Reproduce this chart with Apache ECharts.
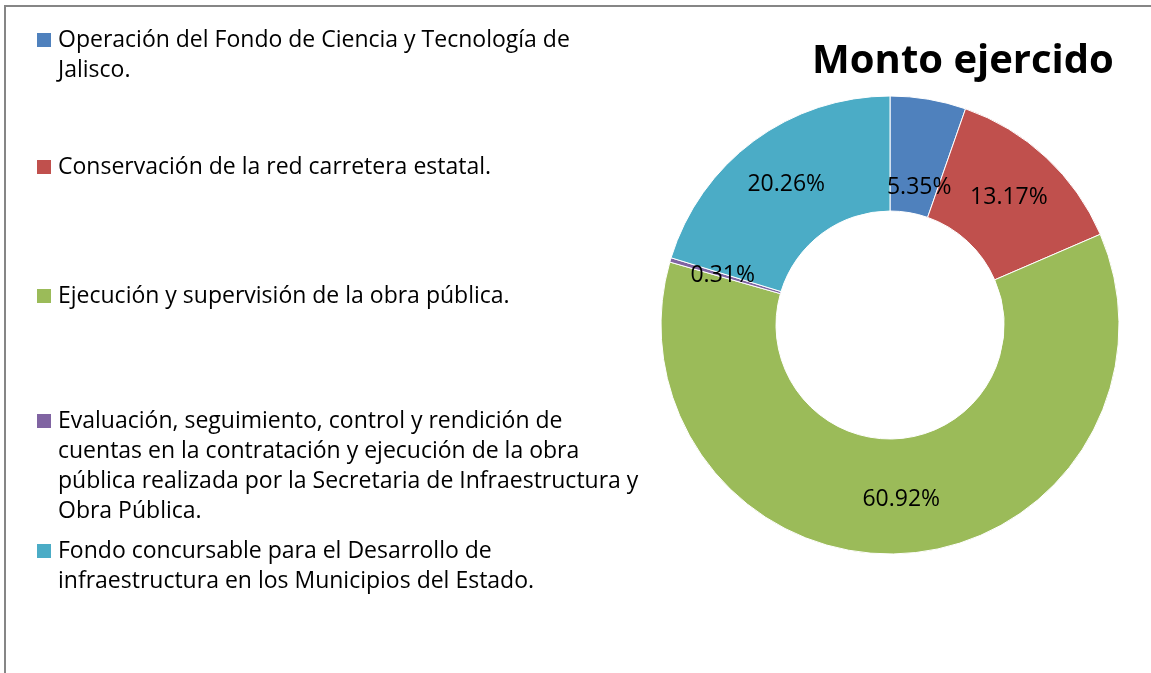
<html>
<head>
    <meta charset='utf-8'/>
    <title>Monto ejercido</title>
    <style>
        body { margin: 0; padding: 0; background: #fff; }
        #chart { position: absolute; top: 0; left: 0; width: 1151px; height: 673px; }
    </style>
</head>
<body>
<div id='chart'></div>
<script src="https://cdn.jsdelivr.net/npm/echarts@6/dist/echarts.min.js"></script>
<script type="text/javascript">
    // programas y porcentaje del monto ejercido
    var names = [
        'Operación del Fondo de Ciencia y Tecnología de Jalisco.',
        'Conservación de la red carretera estatal.',
        'Ejecución y supervisión de la obra pública.',
        'Evaluación, seguimiento, control y rendición de cuentas en la contratación y ejecución de la obra pública realizada por la Secretaria de Infraestructura y Obra Pública.',
        'Fondo concursable para el Desarrollo de infraestructura en los Municipios del Estado.'
    ];
    // texto de la leyenda tal como se corta en renglones
    var legendLines = [
        ['Operación del Fondo de Ciencia y Tecnología de', 'Jalisco.'],
        ['Conservación de la red carretera estatal.'],
        ['Ejecución y supervisión de la obra pública.'],
        ['Evaluación, seguimiento, control y rendición de', 'cuentas en la contratación y ejecución de la obra', 'pública realizada por la Secretaria de Infraestructura y', 'Obra Pública.'],
        ['Fondo concursable para el Desarrollo de', 'infraestructura en los Municipios del Estado.']
    ];
    var values = [5.35, 13.17, 60.92, 0.31, 20.26];
    var colors = ['#4F81BD', '#C0504D', '#9BBB59', '#8064A2', '#4BACC6'];

    var font = '"Open Sans", sans-serif';
    var legendTop = [40, 167, 296, 421, 551]; // centro del primer renglon
    var lineH = 30;

    var graphics = [{
        type: 'rect',
        shape: { x: 5, y: 6, width: 1170, height: 700 },
        style: { fill: 'none', stroke: '#868686', lineWidth: 2 },
        silent: true
    }];
    legendLines.forEach(function (lines, i) {
        graphics.push({
            type: 'rect',
            shape: { x: 37, y: legendTop[i] - 7, width: 14, height: 14 },
            style: { fill: colors[i] }
        });
        graphics.push({
            type: 'text',
            x: 58,
            y: legendTop[i] - lineH / 2,
            style: {
                text: lines.join('\n'),
                font: '23px ' + font,
                lineHeight: lineH,
                fill: '#000',
                verticalAlign: 'top'
            }
        });
    });

    var chart = echarts.init(document.getElementById('chart'), null, { renderer: 'canvas' });
    chart.setOption({
        backgroundColor: '#fff',
        animation: false,
        title: {
            text: 'Monto ejercido',
            left: 958,
            top: 37,
            textAlign: 'center',
            textStyle: {
                fontFamily: font,
                fontWeight: 'bold',
                fontSize: 40,
                color: '#000'
            }
        },
        graphic: graphics,
        series: [{
            type: 'pie',
            center: [890, 325],
            radius: [114, 229],
            startAngle: 90,
            clockwise: true,
            label: {
                position: 'inside',
                formatter: function (p) { return values[p.dataIndex].toFixed(2) + '%'; },
                fontFamily: font,
                fontSize: 23,
                color: '#000'
            },
            labelLine: { show: false },
            itemStyle: { borderColor: '#fff', borderWidth: 1 },
            emphasis: { disabled: true },
            data: names.map(function (n, i) {
                var d = { name: n, value: values[i], itemStyle: { color: colors[i] } };
                // la etiqueta del primer sector queda mas abajo en el original
                if (i === 0) d.label = { offset: [0, 34] };
                return d;
            })
        }]
    });
</script>
</body>
</html>
